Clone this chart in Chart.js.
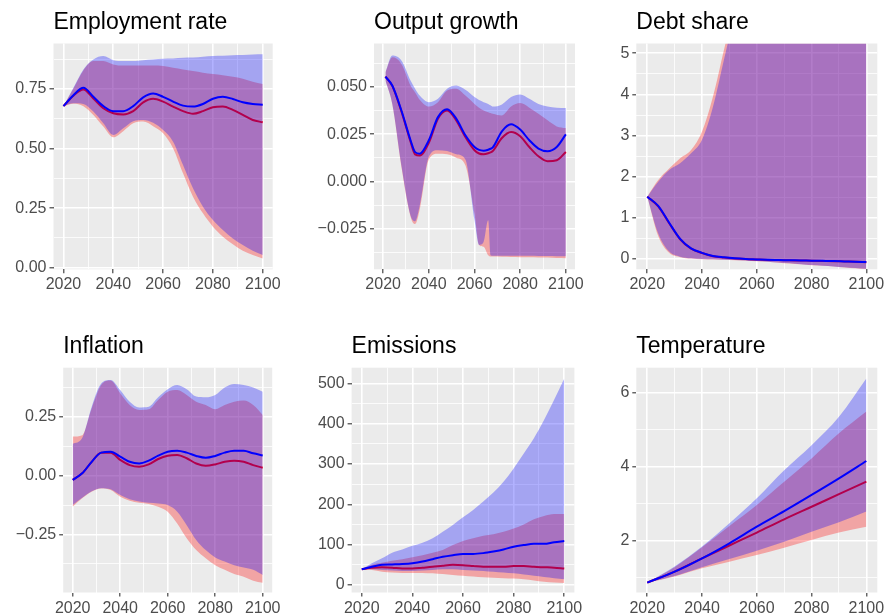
<!DOCTYPE html>
<html>
<head>
<meta charset="utf-8">
<script src="https://cdn.jsdelivr.net/npm/chart.js"></script>
<style>
  body { margin: 0; background: #fff; width: 885px; height: 616px; overflow: hidden; position: relative; }
  canvas { position: absolute; left: 0; top: 0; pointer-events: none; }
</style>
</head>
<body>
<canvas id="employment" width="885" height="650"></canvas>
<canvas id="growth" width="885" height="650"></canvas>
<canvas id="debt" width="885" height="650"></canvas>
<canvas id="inflation" width="885" height="650"></canvas>
<canvas id="emissions" width="885" height="650"></canvas>
<canvas id="temperature" width="885" height="650"></canvas>

<script>
// x values
const years = [2020, 2024, 2028, 2032, 2036, 2040, 2044, 2048, 2052, 2056, 2060,
               2064, 2068, 2072, 2076, 2080, 2084, 2088, 2092, 2096, 2100];
const yearsGrowth = [2021, 2024, 2028, 2032, 2034, 2036, 2040, 2044, 2048, 2052, 2056, 2060,
                     2062, 2064, 2066, 2067, 2068, 2072, 2076, 2080, 2084, 2088, 2092, 2096, 2100];
const yearsTemp = [2020, 2030, 2040, 2050, 2060, 2070, 2080, 2090, 2100];
const xTicks = [2020, 2040, 2060, 2080, 2100];

// Employment rate
const employmentRedLo = [0.678, 0.688, 0.678, 0.641, 0.592, 0.547, 0.573, 0.606, 0.613, 0.594, 0.564, 0.501, 0.396, 0.298, 0.228, 0.172, 0.130, 0.098, 0.071, 0.053, 0.039];
const employmentRedHi = [0.678, 0.752, 0.828, 0.867, 0.867, 0.853, 0.848, 0.848, 0.848, 0.848, 0.846, 0.839, 0.832, 0.825, 0.818, 0.813, 0.808, 0.801, 0.793, 0.780, 0.771];
const employmentRedLine = [0.678, 0.722, 0.748, 0.710, 0.669, 0.648, 0.643, 0.657, 0.694, 0.709, 0.697, 0.676, 0.657, 0.646, 0.657, 0.673, 0.676, 0.662, 0.641, 0.620, 0.610];
const employmentBlueLo = [0.678, 0.690, 0.687, 0.655, 0.606, 0.557, 0.585, 0.615, 0.620, 0.608, 0.578, 0.529, 0.431, 0.333, 0.256, 0.200, 0.158, 0.123, 0.095, 0.071, 0.053];
const employmentBlueHi = [0.678, 0.755, 0.832, 0.874, 0.888, 0.871, 0.867, 0.867, 0.871, 0.874, 0.877, 0.878, 0.881, 0.882, 0.885, 0.888, 0.889, 0.892, 0.893, 0.895, 0.896];
const employmentBlueLine = [0.678, 0.724, 0.755, 0.717, 0.678, 0.657, 0.657, 0.678, 0.715, 0.731, 0.717, 0.697, 0.680, 0.676, 0.687, 0.709, 0.717, 0.708, 0.694, 0.687, 0.684];
const employmentTicks = [0, 0.25, 0.5, 0.75];
const employmentTickLabels = ['0.00', '0.25', '0.50', '0.75'];

// Output growth
const growthRedLo = [0.0533, 0.041, 0.0077, -0.0186, -0.0225, -0.015, 0.0116, 0.0147, 0.0144, 0.0126, 0.0086, -0.017, -0.0335, -0.0345, -0.039, -0.0397, -0.0397, -0.0398, -0.0399, -0.04, -0.04, -0.0401, -0.0402, -0.0404, -0.0405];
const growthRedHi = [0.0577, 0.0656, 0.0621, 0.0507, 0.047, 0.0432, 0.0396, 0.0419, 0.0481, 0.049, 0.0454, 0.041, 0.039, 0.0375, 0.0366, 0.0362, 0.0358, 0.0349, 0.0396, 0.0414, 0.039, 0.0358, 0.0323, 0.0291, 0.0282];
const growthRedLine = [0.0554, 0.0505, 0.037, 0.021, 0.0143, 0.0137, 0.0204, 0.0332, 0.0375, 0.0323, 0.0235, 0.0165, 0.0148, 0.0144, 0.0149, 0.0154, 0.0161, 0.023, 0.0261, 0.0239, 0.0182, 0.0133, 0.0107, 0.0112, 0.0156];
const growthBlueLo = [0.0533, 0.041, 0.0085, -0.018, -0.021, -0.013, 0.013, 0.0165, 0.0161, 0.0144, 0.0116, -0.0204, -0.0335, -0.032, -0.0205, -0.039, -0.0393, -0.0393, -0.0393, -0.0393, -0.0393, -0.0394, -0.0394, -0.0395, -0.0395];
const growthBlueHi = [0.0577, 0.0665, 0.0639, 0.0533, 0.049, 0.0454, 0.0419, 0.0437, 0.049, 0.0507, 0.0484, 0.0446, 0.043, 0.0419, 0.041, 0.0403, 0.0396, 0.0407, 0.0446, 0.046, 0.0437, 0.041, 0.0396, 0.0389, 0.0388];
const growthBlueLine = [0.0554, 0.0507, 0.0375, 0.0218, 0.0155, 0.0147, 0.0218, 0.034, 0.0382, 0.0332, 0.0244, 0.0182, 0.0167, 0.0163, 0.0168, 0.0173, 0.018, 0.0265, 0.0302, 0.0274, 0.0218, 0.0174, 0.016, 0.0182, 0.0249];
const growthTicks = [-0.025, 0, 0.025, 0.05];
const growthTickLabels = ['\u22120.025', '0.000', '0.025', '0.050'];

// Debt share
const debtRedLo = [1.515, 0.56, 0.15, 0.045, 0.01, -0.005, -0.012, -0.02, -0.028, -0.04, -0.055, -0.07, -0.09, -0.11, -0.13, -0.15, -0.167, -0.185, -0.205, -0.225, -0.245];
const debtRedHi = [1.515, 1.92, 2.2, 2.45, 2.65, 3.1, 3.95, 5.08, 6.2, 7.4, 8.7, 10.1, 11.6, 13.1, 14.6, 16.1, 17.6, 19.1, 20.6, 22.1, 23.6];
const debtRedLine = [1.515, 1.28, 0.87, 0.48, 0.25, 0.145, 0.068, 0.036, 0.013, -0.003, -0.013, -0.022, -0.027, -0.032, -0.037, -0.042, -0.047, -0.052, -0.06, -0.068, -0.077];
const debtBlueLo = [1.515, 0.62, 0.18, 0.057, 0.016, 0, -0.008, -0.016, -0.024, -0.035, -0.05, -0.065, -0.085, -0.105, -0.125, -0.145, -0.162, -0.18, -0.2, -0.22, -0.24];
const debtBlueHi = [1.515, 1.88, 2.165, 2.33, 2.57, 2.9, 3.7, 4.84, 6, 7.2, 8.5, 10, 11.5, 13, 14.5, 16, 17.5, 19, 20.5, 22, 23.5];
const debtBlueLine = [1.515, 1.29, 0.88, 0.49, 0.26, 0.15, 0.073, 0.04, 0.016, 0, -0.01, -0.02, -0.025, -0.03, -0.035, -0.04, -0.045, -0.05, -0.058, -0.066, -0.075];
const debtTicks = [0, 1, 2, 3, 4, 5];
const debtTickLabels = ['0', '1', '2', '3', '4', '5'];

// Inflation
const inflationRedLo = [-0.132, -0.096, -0.068, -0.054, -0.061, -0.089, -0.106, -0.115, -0.12, -0.132, -0.153, -0.203, -0.266, -0.316, -0.351, -0.38, -0.4, -0.418, -0.429, -0.446, -0.455];
const inflationRedHi = [0.166, 0.172, 0.286, 0.385, 0.404, 0.35, 0.3, 0.279, 0.282, 0.322, 0.357, 0.364, 0.343, 0.314, 0.3, 0.282, 0.3, 0.314, 0.319, 0.3, 0.258];
const inflationRedLine = [-0.018, 0.01, 0.059, 0.098, 0.098, 0.067, 0.045, 0.038, 0.048, 0.071, 0.085, 0.088, 0.074, 0.052, 0.042, 0.048, 0.059, 0.064, 0.059, 0.045, 0.034];
const inflationBlueLo = [-0.125, -0.094, -0.066, -0.053, -0.058, -0.082, -0.1, -0.11, -0.115, -0.118, -0.125, -0.153, -0.21, -0.273, -0.316, -0.347, -0.365, -0.38, -0.39, -0.4, -0.422];
const inflationBlueHi = [0.135, 0.16, 0.293, 0.392, 0.407, 0.364, 0.314, 0.29, 0.293, 0.333, 0.367, 0.385, 0.367, 0.336, 0.333, 0.343, 0.375, 0.39, 0.385, 0.375, 0.357];
const inflationBlueLine = [-0.018, 0.01, 0.059, 0.098, 0.102, 0.081, 0.059, 0.052, 0.064, 0.085, 0.102, 0.106, 0.098, 0.084, 0.076, 0.084, 0.098, 0.106, 0.106, 0.095, 0.086];
const inflationTicks = [-0.25, 0, 0.25];
const inflationTickLabels = ['\u22120.25', '0.00', '0.25'];

// Emissions
const emissionsRedLo = [39, 37, 33, 31, 30, 30, 30, 29, 27, 25, 23, 21, 19, 18, 17, 16, 14, 11, 8, 6, 5];
const emissionsRedHi = [39, 50, 55, 60, 64, 69, 74, 80, 87, 99, 109, 116, 122, 126, 132, 140, 150, 163, 171, 176, 176];
const emissionsRedLine = [39, 43, 44, 43, 41, 41, 43, 45, 48, 50, 49, 47, 45, 45, 45, 47, 47, 45, 44, 43, 41];
const emissionsBlueLo = [39, 39, 37, 36, 35, 35, 36, 37, 39, 39, 37, 36, 35, 33, 31, 29, 26, 23, 20, 17, 14];
const emissionsBlueHi = [39, 54, 66, 80, 88, 97, 105, 116, 132, 149, 168, 186, 207, 229, 256, 289, 326, 364, 409, 459, 512];
const emissionsBlueLine = [39, 45, 50, 51, 52, 54, 58, 64, 70, 74, 77, 77, 79, 83, 88, 95, 99, 102, 102, 106, 109];
const emissionsTicks = [0, 100, 200, 300, 400, 500];
const emissionsTickLabels = ['0', '100', '200', '300', '400', '500'];

// Temperature
const temperatureRedLo = [0.853, 1.02, 1.24, 1.42, 1.6, 1.8, 2.01, 2.21, 2.37];
const temperatureRedHi = [0.853, 1.27, 1.81, 2.39, 2.96, 3.59, 4.22, 4.9, 5.49];
const temperatureRedLine = [0.853, 1.15, 1.51, 1.86, 2.21, 2.57, 2.91, 3.25, 3.59];
const temperatureBlueLo = [0.853, 1.03, 1.27, 1.49, 1.72, 1.96, 2.23, 2.49, 2.78];
const temperatureBlueHi = [0.853, 1.29, 1.83, 2.46, 3.14, 3.9, 4.58, 5.35, 6.39];
const temperatureBlueLine = [0.853, 1.15, 1.51, 1.92, 2.37, 2.79, 3.23, 3.68, 4.15];
const temperatureTicks = [2, 4, 6];
const temperatureTickLabels = ['2', '4', '6'];

const FONT = 'Liberation Sans';
const W = 885, CH = 650;

// major ticks plus the half-way minor lines inside [min, max]
function gridValues(majors, min, max) {
  const step = (majors[1] - majors[0]) / 2;
  const out = [];
  for (let k = Math.ceil(min / step - 1e-9); k * step <= max + 1e-9; k++) out.push(+(k * step).toFixed(6));
  return out;
}
const isMajor = (majors, v) => majors.some(m => Math.abs(m - v) < 1e-9);

const panelBg = {
  id: 'panelBg',
  beforeDraw(chart) {
    const a = chart.chartArea, ctx = chart.ctx;
    ctx.save();
    ctx.fillStyle = '#EBEBEB';
    ctx.fillRect(a.left, a.top, a.right - a.left, a.bottom - a.top);
    ctx.restore();
  }
};

function makePanel(p) {
  const pts = arr => p.x.map((yr, i) => ({x: yr, y: arr[i]}));
  const band = (arr, color, fill, order) => ({
    data: pts(arr), borderWidth: 0, pointRadius: 0, backgroundColor: color,
    borderColor: 'rgba(0,0,0,0)', fill: fill, order: order, cubicInterpolationMode: 'monotone'
  });
  const line = (arr, color, order) => ({
    data: pts(arr), borderWidth: 2, pointRadius: 0, borderColor: color,
    fill: false, order: order, cubicInterpolationMode: 'monotone'
  });
  const [L, T, R, B] = p.rect;
  const xGrid = gridValues(xTicks, 2016, 2104);
  const yGrid = gridValues(p.ticks, p.yMin, p.yMax);
  const tickFont = {family: FONT, size: 16};
  const xh = 30;

  new Chart(document.getElementById(p.id), {
    type: 'line',
    data: {
      datasets: [
        band(p.redLo, 'rgba(0,0,0,0)', false, 6),
        band(p.redHi, 'rgba(255,0,0,0.3)', '-1', 5),
        line(p.redLine, '#FF0000', 4),
        band(p.blueLo, 'rgba(0,0,0,0)', false, 3),
        band(p.blueHi, 'rgba(0,0,255,0.3)', '-1', 2),
        line(p.blueLine, '#0000FF', 1)
      ]
    },
    options: {
      responsive: false,
      animation: false,
      devicePixelRatio: 1,
      events: [],
      layout: {padding: {left: 0, top: T, right: W - R, bottom: CH - B - xh}},
      plugins: {legend: {display: false}, tooltip: {enabled: false}},
      scales: {
        x: {
          type: 'linear', min: 2016, max: 2104,
          afterBuildTicks: s => { s.ticks = xGrid.map(v => ({value: v})); },
          afterFit: s => { s.height = xh; s.paddingLeft = 0; s.paddingRight = 0; },
          ticks: {
            autoSkip: false, maxRotation: 0, padding: 2, color: '#4D4D4D', font: tickFont,
            callback: v => isMajor(xTicks, v) ? String(v) : ''
          },
          grid: {
            color: '#FFFFFF',
            lineWidth: c => (c.tick && isMajor(xTicks, c.tick.value)) ? 1.6 : 0.8,
            tickLength: 4, tickWidth: 1.1,
            tickColor: c => (c.tick && isMajor(xTicks, c.tick.value)) ? '#333333' : 'rgba(0,0,0,0)'
          },
          border: {display: false}
        },
        y: {
          type: 'linear', min: p.yMin, max: p.yMax,
          afterBuildTicks: s => { s.ticks = yGrid.map(v => ({value: v})); },
          afterFit: s => { s.width = L; s.paddingTop = 0; s.paddingBottom = 0; },
          ticks: {
            autoSkip: false, padding: 3, color: '#4D4D4D', font: tickFont,
            callback: v => {
              const i = p.ticks.findIndex(m => Math.abs(m - v) < 1e-9);
              return i >= 0 ? p.tickLabels[i] : '';
            }
          },
          grid: {
            color: '#FFFFFF',
            lineWidth: c => (c.tick && isMajor(p.ticks, c.tick.value)) ? 1.6 : 0.8,
            tickLength: 4, tickWidth: 1.1,
            tickColor: c => (c.tick && isMajor(p.ticks, c.tick.value)) ? '#333333' : 'rgba(0,0,0,0)'
          },
          border: {display: false}
        }
      }
    },
    plugins: [panelBg, {
      id: 'panelTitle',
      afterDraw(chart) {
        const ctx = chart.ctx, a = chart.chartArea;
        ctx.save();
        ctx.font = '23px "' + FONT + '"';
        ctx.fillStyle = '#000000';
        ctx.textBaseline = 'alphabetic';
        ctx.textAlign = 'left';
        ctx.fillText(p.title, a.left, a.top - 14.5);
        ctx.restore();
      }
    }]
  });
}

makePanel({id: 'employment', title: 'Employment rate', x: years, rect: [53.5, 43.5, 272.7, 269.3],
  yMin: -0.0067, yMax: 0.9408, ticks: employmentTicks, tickLabels: employmentTickLabels,
  redLo: employmentRedLo, redHi: employmentRedHi, redLine: employmentRedLine,
  blueLo: employmentBlueLo, blueHi: employmentBlueHi, blueLine: employmentBlueLine});

makePanel({id: 'growth', title: 'Output growth', x: yearsGrowth, rect: [374, 43.5, 575, 269.3],
  yMin: -0.0464, yMax: 0.0729, ticks: growthTicks, tickLabels: growthTickLabels,
  redLo: growthRedLo, redHi: growthRedHi, redLine: growthRedLine,
  blueLo: growthBlueLo, blueHi: growthBlueHi, blueLine: growthBlueLine});

makePanel({id: 'debt', title: 'Debt share', x: years, rect: [636.3, 43.5, 877.3, 269.3],
  yMin: -0.2505, yMax: 5.238, ticks: debtTicks, tickLabels: debtTickLabels,
  redLo: debtRedLo, redHi: debtRedHi, redLine: debtRedLine,
  blueLo: debtBlueLo, blueHi: debtBlueHi, blueLine: debtBlueLine});

makePanel({id: 'inflation', title: 'Inflation', x: years, rect: [63.2, 367.7, 272.2, 592.5],
  yMin: -0.4962, yMax: 0.4588, ticks: inflationTicks, tickLabels: inflationTickLabels,
  redLo: inflationRedLo, redHi: inflationRedHi, redLine: inflationRedLine,
  blueLo: inflationBlueLo, blueHi: inflationBlueHi, blueLine: inflationBlueLine});

makePanel({id: 'emissions', title: 'Emissions', x: years, rect: [351.6, 367.7, 574.4, 592.5],
  yMin: -18.6, yMax: 538.7, ticks: emissionsTicks, tickLabels: emissionsTickLabels,
  redLo: emissionsRedLo, redHi: emissionsRedHi, redLine: emissionsRedLine,
  blueLo: emissionsBlueLo, blueHi: emissionsBlueHi, blueLine: emissionsBlueLine});

makePanel({id: 'temperature', title: 'Temperature', x: yearsTemp, rect: [636.3, 367.7, 877.3, 592.5],
  yMin: 0.585, yMax: 6.68, ticks: temperatureTicks, tickLabels: temperatureTickLabels,
  redLo: temperatureRedLo, redHi: temperatureRedHi, redLine: temperatureRedLine,
  blueLo: temperatureBlueLo, blueHi: temperatureBlueHi, blueLine: temperatureBlueLine});
</script>
</body>
</html>
